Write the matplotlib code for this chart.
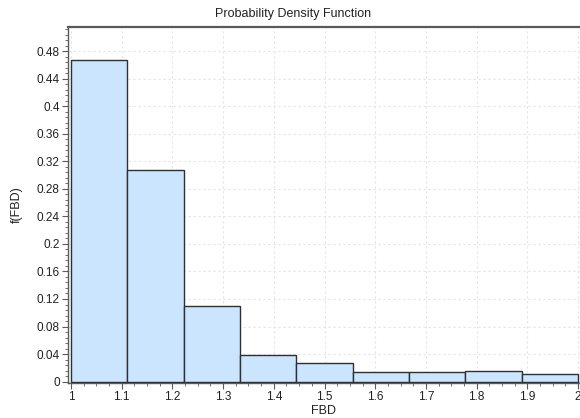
import matplotlib
matplotlib.use("Agg")
import matplotlib.pyplot as plt
from matplotlib.ticker import MultipleLocator

# histogram bins
bin_edges = [1.0, 1.111, 1.222, 1.333, 1.444, 1.556, 1.667, 1.778, 1.889, 2.0]
density = [0.467, 0.307, 0.110, 0.038, 0.027, 0.014, 0.014, 0.016, 0.011]
x_ticks = [1, 1.1, 1.2, 1.3, 1.4, 1.5, 1.6, 1.7, 1.8, 1.9, 2]
x_ticklabels = ["1", "1.1", "1.2", "1.3", "1.4", "1.5", "1.6", "1.7", "1.8", "1.9", "2"]
y_ticks = [0, 0.04, 0.08, 0.12, 0.16, 0.2, 0.24, 0.28, 0.32, 0.36, 0.4, 0.44, 0.48]
y_ticklabels = ["0", "0.04", "0.08", "0.12", "0.16", "0.2", "0.24", "0.28", "0.32", "0.36", "0.4", "0.44", "0.48"]

plt.rcParams.update({"font.family": ["Liberation Sans", "DejaVu Sans"], "font.size": 8.5})
INK = "#303030"
FILL = "#cce5ff"
SPINE = "#5a5a5a"

fig = plt.figure(figsize=(5.8, 4.18), dpi=100)
ax = fig.add_axes([68 / 580, 35 / 418, 1 - 68 / 580, (383 - 27) / 418])

lefts = bin_edges[:-1]
widths = [b - a for a, b in zip(bin_edges[:-1], bin_edges[1:])]
ax.bar(lefts, density, width=widths, align="edge", color=FILL, edgecolor=INK, linewidth=1.0, zorder=3)

ax.set_xlim(0.994, 2.004)
ax.set_ylim(-0.002, 0.515)
ax.set_xticks(x_ticks); ax.set_xticklabels(x_ticklabels)
ax.set_yticks(y_ticks); ax.set_yticklabels(y_ticklabels)
ax.xaxis.set_minor_locator(MultipleLocator(0.025))
ax.yaxis.set_minor_locator(MultipleLocator(0.008))
ax.tick_params(which="major", direction="out", length=4, width=0.8, color=SPINE, labelcolor="#222222", pad=2)
ax.tick_params(which="minor", direction="out", length=2, width=0.6, color=SPINE)
ax.grid(True, which="major", ls=(0, (2, 2.5)), lw=0.8, color="#e4e4e4", zorder=0)

for s in ("left", "bottom"):
    ax.spines[s].set_color(SPINE); ax.spines[s].set_linewidth(1.0)
ax.spines["top"].set_color(SPINE); ax.spines["top"].set_linewidth(1.6)
ax.spines["right"].set_visible(False)

ax.set_xlabel("FBD", fontsize=9, labelpad=1, color="#222222")
ax.set_ylabel("f(FBD)", fontsize=9, labelpad=10, color="#222222")
fig.text(0.505, 1 - 14 / 418, "Probability Density Function", ha="center", va="center", fontsize=9, color="#222222")

fig.savefig("out.png", dpi=100)
